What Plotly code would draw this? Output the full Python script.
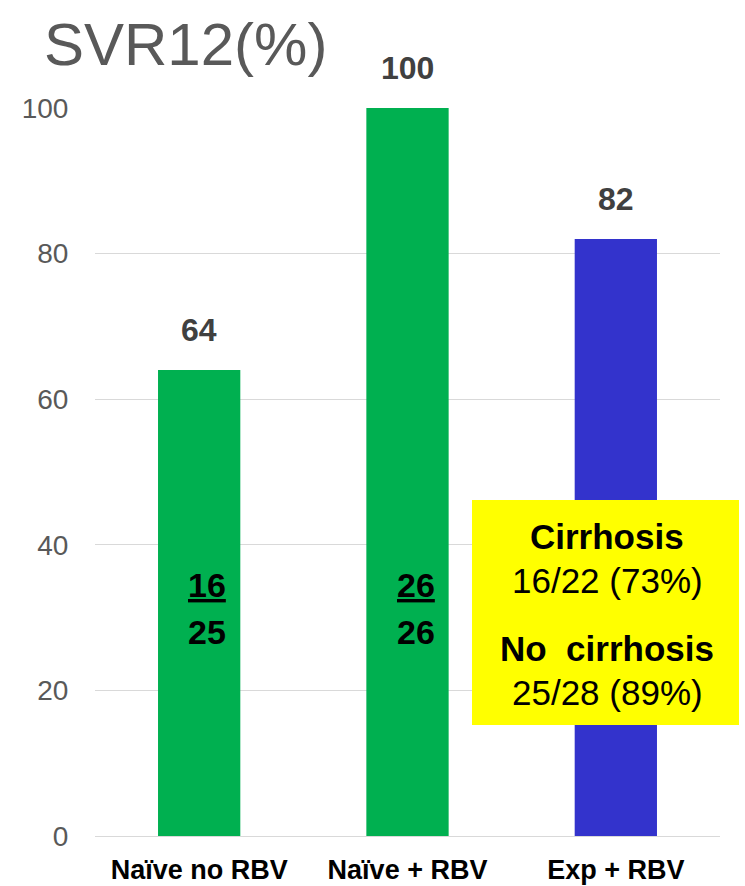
import plotly.graph_objects as go

# Sustained virologic response at week 12, by treatment group
groups = ["Naïve no RBV", "Naïve + RBV", "Exp + RBV"]
svr12_pct = [64, 100, 82]
responders = [16, 26, None]
patients = [25, 26, None]
bar_colors = ["#00B050", "#00B050", "#3333CC"]

# Cirrhosis breakdown for the experienced group
cirrhosis_labels = ["Cirrhosis", "No  cirrhosis"]
cirrhosis_resp = [16, 25]
cirrhosis_total = [22, 28]
cirrhosis_pct = [73, 89]

FONT = "Liberation Sans, Arial, sans-serif"

fig = go.Figure(
    go.Bar(
        x=groups,
        y=svr12_pct,
        marker=dict(color=bar_colors, line=dict(width=0)),
        width=0.395,
        hoverinfo="skip",
    )
)

annotations = []
# Percentages above each bar
for g, v in zip(groups, svr12_pct):
    annotations.append(dict(
        x=g, y=v, xref="x", yref="y", text=f"<b>{v}</b>", showarrow=False,
        yanchor="bottom", yshift=20,
        font=dict(family=FONT, size=32, color="#404040"),
    ))

# n/N fractions inside the naïve bars
for g, n, d in zip(groups, responders, patients):
    if n is None:
        continue
    annotations.append(dict(
        x=g, y=34.5, xref="x", yref="y", xshift=8, showarrow=False,
        text=f"<b><span style='text-decoration:underline'>{n}</span></b>",
        font=dict(family=FONT, size=34, color="#000000"),
    ))
    annotations.append(dict(
        x=g, y=28, xref="x", yref="y", xshift=8, showarrow=False, yanchor="middle",
        text=f"<b>{d}</b>",
        font=dict(family=FONT, size=34, color="#000000"),
    ))

# Yellow callout with cirrhosis subgroups
box_lines = []
for lab, r, t, p in zip(cirrhosis_labels, cirrhosis_resp, cirrhosis_total, cirrhosis_pct):
    box_lines.append((lab, f"{r}/{t} ({p}%)"))

callout_y = [(536, 580), (648, 692)]
for (lab, val), (y1, y2) in zip(box_lines, callout_y):
    for txt, ypx, bold in ((lab, y1, True), (val, y2, False)):
        annotations.append(dict(
            x=(607 - 95) / 625, xref="paper",
            y=(836 - ypx) / 728, yref="paper",
            text=f"<b>{txt}</b>" if bold else txt, showarrow=False,
            xanchor="center", yanchor="middle",
            font=dict(family=FONT, size=35, color="#000000"),
        ))

fig.add_shape(
    type="rect", xref="paper", yref="paper",
    x0=(472 - 95) / 625, x1=(739 - 95) / 625,
    y0=(836 - 725) / 728, y1=(836 - 500) / 728,
    fillcolor="#FFFF00", line=dict(width=0), layer="above",
)

fig.update_layout(
    width=745, height=886,
    margin=dict(l=95, r=25, t=108, b=50),
    paper_bgcolor="white", plot_bgcolor="white",
    showlegend=False,
    bargap=0.6,
    title=dict(
        text="SVR12(%)", xref="container", yref="container",
        x=44 / 745, xanchor="left", y=1 - 44 / 886, yanchor="middle",
        font=dict(family=FONT, size=60, color="#595959"),
    ),
    annotations=annotations,
)

fig.update_yaxes(
    range=[0, 100], tickvals=[0, 20, 40, 60, 80, 100],
    automargin=False,
    showgrid=True, gridcolor="#D9D9D9", gridwidth=1,
    zeroline=True, zerolinecolor="#D9D9D9", zerolinewidth=1,
    showline=False,
    ticks="outside", ticklen=20, tickcolor="rgba(0,0,0,0)",
    tickfont=dict(family=FONT, size=28, color="#595959"),
)
fig.update_xaxes(
    automargin=False,
    showline=False, showgrid=False,
    ticks="outside", ticklen=10, tickcolor="rgba(0,0,0,0)",
    tickfont=dict(family=FONT, size=27, color="#000000"),
    tickprefix="<b>", ticksuffix="</b>",
)
fig.update_traces(cliponaxis=False)

fig.write_html("out.html")
